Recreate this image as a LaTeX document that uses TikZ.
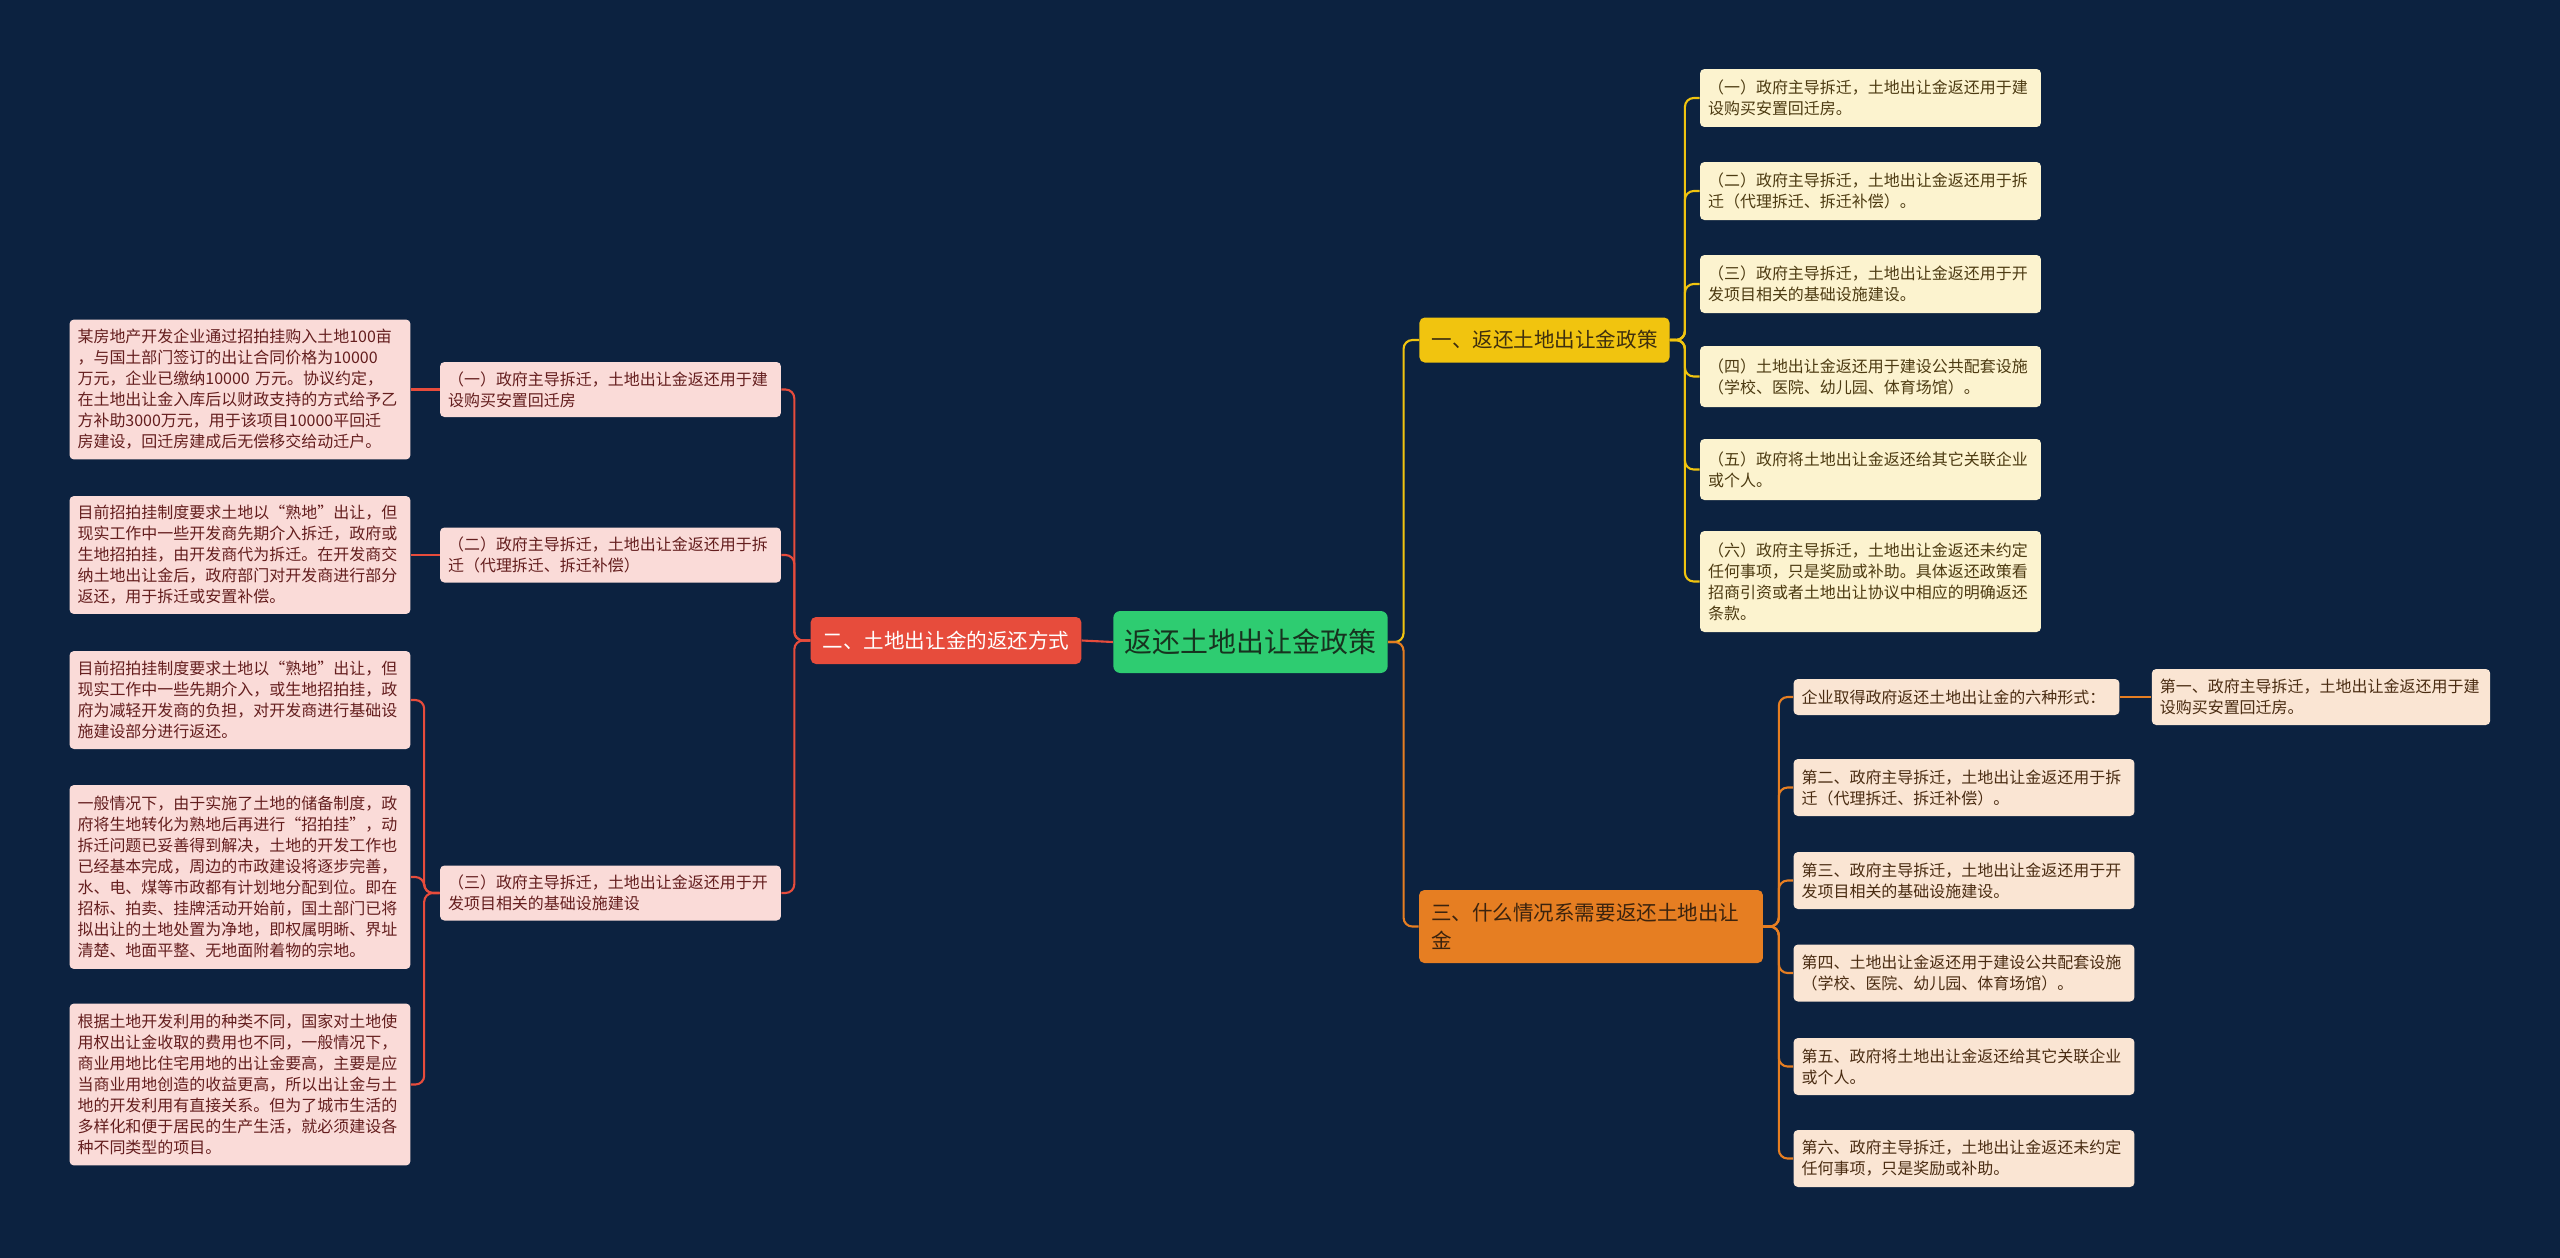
\documentclass[tikz,border=0pt]{standalone}
\usepackage{fontspec}
\setmainfont{Noto Sans CJK SC}
\usepackage{tikz}
\definecolor{mapbg}{HTML}{0C2240}
\definecolor{rootgreen}{HTML}{2ECC71}
\definecolor{roottext}{HTML}{17331F}
\definecolor{branchred}{HTML}{E74C3C}
\definecolor{branchyellow}{HTML}{F1C40F}
\definecolor{branchorange}{HTML}{E67E22}
\definecolor{pinkfill}{HTML}{FADBD8}
\definecolor{pinktext}{HTML}{641E1E}
\definecolor{creamfill}{HTML}{FCF3CF}
\definecolor{creamtext}{HTML}{4D3B12}
\definecolor{peachfill}{HTML}{FAE5D3}
\definecolor{peachtext}{HTML}{4A2C12}

\begin{document}
\begin{tikzpicture}[
  x=0.02cm, y=-0.02cm,
  box/.style={rectangle, rounded corners=2.5pt, align=left, inner xsep=0.16cm, inner ysep=0.1cm},
  rootbox/.style={box, rounded corners=4pt, fill=rootgreen, text=roottext, inner xsep=0.23cm, minimum height=1.24cm, font=\fontsize{15.9pt}{20pt}\selectfont},
  branch/.style={box, rounded corners=3pt, inner xsep=0.24cm, minimum height=0.9cm, font=\fontsize{11.7pt}{15.9pt}\selectfont},
  leaf/.style={box, text width=6.5cm, minimum height=1.14cm, font=\fontsize{9.1pt}{11.95pt}\selectfont},
  pinkleaf/.style={leaf, fill=pinkfill, text=pinktext},
  creamleaf/.style={leaf, fill=creamfill, text=creamtext},
  peachleaf/.style={leaf, fill=peachfill, text=peachtext},
  link/.style={line width=1.2pt, rounded corners=5pt},
  redline/.style={link, draw=branchred},
  yellowline/.style={link, draw=branchyellow},
  orangeline/.style={link, draw=branchorange},
]

\useasboundingbox (0,0) rectangle (2560,1258);
\fill[mapbg] (0,0) rectangle (2560,1258);

\node[rootbox] (policy) at (1250.5,642) {返还土地出让金政策};

\node[branch, fill=branchred, text=white, minimum height=0.94cm] (ways) at (946,640.5) {二、土地出让金的返还方式};
\node[branch, fill=branchyellow, text=creamtext!80!black] (rules) at (1544.5,340) {一、返还土地出让金政策};
\node[branch, fill=branchorange, text=peachtext!80!black, text width=6.4cm, minimum height=1.46cm] (cases) at (1591,926.5) {三、什么情况系需要返还土地出让\\金};

\node[pinkleaf, minimum height=1.1cm] (w1) at (610.5,389.5) {（一）政府主导拆迁，土地出让金返还用于建\\设购买安置回迁房};
\node[pinkleaf, minimum height=1.1cm] (w2) at (610.5,555) {（二）政府主导拆迁，土地出让金返还用于拆\\迁（代理拆迁、拆迁补偿）};
\node[pinkleaf, minimum height=1.1cm] (w3) at (610.5,893) {（三）政府主导拆迁，土地出让金返还用于开\\发项目相关的基础设施建设};

\node[pinkleaf, minimum height=2.8cm] (e1) at (240,389.5) {某房地产开发企业通过招拍挂购入土地100亩\\，与国土部门签订的出让合同价格为10000\\万元，企业已缴纳10000 万元。协议约定，\\在土地出让金入库后以财政支持的方式给予乙\\方补助3000万元，用于该项目10000平回迁\\房建设，回迁房建成后无偿移交给动迁户。};
\node[pinkleaf, minimum height=2.36cm] (e2) at (240,555) {目前招拍挂制度要求土地以“熟地”出让，但\\现实工作中一些开发商先期介入拆迁，政府或\\生地招拍挂，由开发商代为拆迁。在开发商交\\纳土地出让金后，政府部门对开发商进行部分\\返还，用于拆迁或安置补偿。};
\node[pinkleaf, minimum height=1.96cm] (e3) at (240,700) {目前招拍挂制度要求土地以“熟地”出让，但\\现实工作中一些先期介入，或生地招拍挂，政\\府为减轻开发商的负担，对开发商进行基础设\\施建设部分进行返还。};
\node[pinkleaf, minimum height=3.68cm] (e4) at (240,877) {一般情况下，由于实施了土地的储备制度，政\\府将生地转化为熟地后再进行“招拍挂”，动\\拆迁问题已妥善得到解决，土地的开发工作也\\已经基本完成，周边的市政建设将逐步完善，\\水、电、煤等市政都有计划地分配到位。即在\\招标、拍卖、挂牌活动开始前，国土部门已将\\拟出让的土地处置为净地，即权属明晰、界址\\清楚、地面平整、无地面附着物的宗地。};
\node[pinkleaf, minimum height=3.24cm] (e5) at (240,1084.5) {根据土地开发利用的种类不同，国家对土地使\\用权出让金收取的费用也不同，一般情况下，\\商业用地比住宅用地的出让金要高，主要是应\\当商业用地创造的收益更高，所以出让金与土\\地的开发利用有直接关系。但为了城市生活的\\多样化和便于居民的生产生活，就必须建设各\\种不同类型的项目。};

\node[creamleaf, minimum height=1.16cm] (r1) at (1870.5,98) {（一）政府主导拆迁，土地出让金返还用于建\\设购买安置回迁房。};
\node[creamleaf, minimum height=1.16cm] (r2) at (1870.5,191) {（二）政府主导拆迁，土地出让金返还用于拆\\迁（代理拆迁、拆迁补偿）。};
\node[creamleaf, minimum height=1.16cm] (r3) at (1870.5,284) {（三）政府主导拆迁，土地出让金返还用于开\\发项目相关的基础设施建设。};
\node[creamleaf, minimum height=1.22cm] (r4) at (1870.5,376.5) {（四）土地出让金返还用于建设公共配套设施\\（学校、医院、幼儿园、体育场馆）。};
\node[creamleaf, minimum height=1.22cm] (r5) at (1870.5,469.5) {（五）政府将土地出让金返还给其它关联企业\\或个人。};
\node[creamleaf, minimum height=2.02cm] (r6) at (1870.5,581.5) {（六）政府主导拆迁，土地出让金返还未约定\\任何事项，只是奖励或补助。具体返还政策看\\招商引资或者土地出让协议中相应的明确返还\\条款。};

\node[peachleaf, text width=6.2cm, minimum height=0.72cm] (c1) at (1956.5,697) {企业取得政府返还土地出让金的六种形式：};
\node[peachleaf, text width=6.45cm, minimum height=1.12cm] (c1a) at (2321,697) {第一、政府主导拆迁，土地出让金返还用于建\\设购买安置回迁房。};
\node[peachleaf] (c2) at (1964,787.5) {第二、政府主导拆迁，土地出让金返还用于拆\\迁（代理拆迁、拆迁补偿）。};
\node[peachleaf] (c3) at (1964,880.5) {第三、政府主导拆迁，土地出让金返还用于开\\发项目相关的基础设施建设。};
\node[peachleaf] (c4) at (1964,973) {第四、土地出让金返还用于建设公共配套设施\\（学校、医院、幼儿园、体育场馆）。};
\node[peachleaf] (c5) at (1964,1066.5) {第五、政府将土地出让金返还给其它关联企业\\或个人。};
\node[peachleaf] (c6) at (1964,1158.5) {第六、政府主导拆迁，土地出让金返还未约定\\任何事项，只是奖励或补助。};

\draw[redline] (policy.west) -- (ways.east);
\foreach \n in {w1,w2,w3}
  \draw[redline] (ways.west) -- ++(-16,0) |- (\n.east);
\draw[redline] (w1.west) -- (e1.east);
\draw[redline] (w2.west) -- (e2.east);
\foreach \n in {e3,e4,e5}
  \draw[redline] (w3.west) -- ++(-15.5,0) |- (\n.east);

\draw[yellowline] (policy.east) -- ++(15.5,0) |- (rules.west);
\draw[orangeline] (policy.east) -- ++(15.5,0) |- (cases.west);
\foreach \n in {r1,r2,r3,r4,r5,r6}
  \draw[yellowline] (rules.east) -- ++(15,0) |- (\n.west);
\foreach \n in {c1,c2,c3,c4,c5,c6}
  \draw[orangeline] (cases.east) -- ++(15.5,0) |- (\n.west);
\draw[orangeline] (c1.east) -- (c1a.west);

\end{tikzpicture}
\end{document}
